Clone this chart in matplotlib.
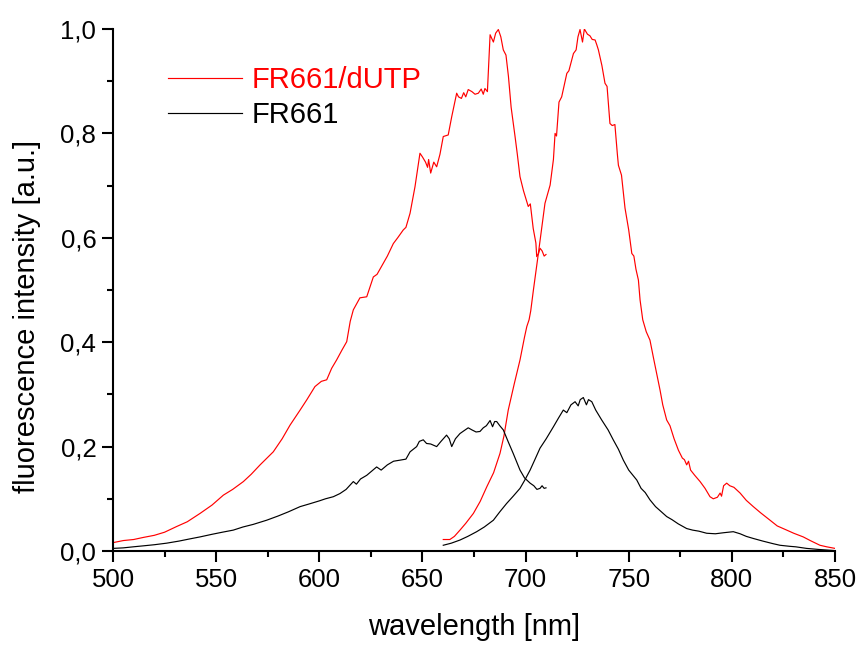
import matplotlib
matplotlib.use("Agg")
import matplotlib.pyplot as plt
from matplotlib.ticker import MultipleLocator, FuncFormatter

plt.rcParams['font.family'] = ['Liberation Sans', 'DejaVu Sans']

# FR661/dUTP excitation
red_ex_x = [500, 505, 510, 514.7, 520, 525, 530.9, 536, 542.2, 548, 553.5, 558, 563.2, 567, 571.3, 577.7,
            582, 585.8, 590.7, 594, 597.9, 601, 603.6, 606, 608.4, 611, 613.3, 615, 616.5, 619.7, 623, 626.2,
            628, 631, 633, 635.9, 638, 640.7, 642, 644, 646.4, 648.8, 650, 651.5, 652.5, 653, 654, 655.5,
            656.9, 658.5, 660.1, 662.5, 664.2, 666.6, 667.5, 668.9, 670, 671, 672.2, 674, 675.5, 677.1,
            678.5, 679.5, 680.3, 681.5, 682.8, 684.4, 685.5, 686.8, 688, 689.2, 690.5, 691.7, 693, 694.9,
            696, 697.3, 699, 701.3, 702.3, 703.7, 705, 705.4, 706.3, 707, 708, 709, 709.9]
red_ex_y = [.016, .02, .022, .026, .03, .036, .047, .056, .072, .088, .107, .118, .133, .147, .165, .19,
            .215, .241, .27, .29, .315, .325, .328, .35, .366, .385, .401, .44, .462, .485, .487, .525,
            .53, .551, .565, .589, .6, .615, .62, .647, .698, .762, .755, .745, .735, .75, .724, .745,
            .736, .76, .794, .797, .832, .877, .87, .867, .878, .87, .884, .88, .875, .877,
            .885, .875, .886, .88, .989, .975, .992, .999, .985, .96, .95, .909, .85, .794,
            .76, .717, .69, .66, .665, .618, .59, .564, .57, .58, .575, .565, .568]

# FR661/dUTP emission
red_em_x = [660.1, 663.3, 665.5, 668.2, 671, 674.7, 678, 681.2, 684.5, 687.6, 689.5, 691.6, 694.5, 697.3,
            699.5, 700.6, 701.7, 702.5, 703.8, 706.2, 709.4, 711.9, 713.5, 714.3, 715, 716.2, 717.5, 720,
            721, 723.2, 724.5, 725.4, 726.4, 727.6, 728.5, 730, 731.2, 732.3, 733.7, 734.5, 735.3, 737,
            738.5, 739.5, 740.9, 742, 743.3, 744.5, 745, 746.5, 748.2, 750, 751.5, 752.5, 753.5, 754.7,
            755.5, 756.8, 758.5, 760.3, 762, 765.2, 766.5, 768.4, 770, 772, 774.1, 776, 777, 778.1, 779,
            780, 782, 784.6, 787, 789.4, 791, 793, 794.3, 795, 796, 797.5, 799, 801, 804, 807, 810.4, 814,
            818.5, 822, 826.6, 830, 834.6, 838, 842.7, 846, 850]
red_em_y = [.022, .022, .028, .04, .053, .072, .095, .123, .15, .187, .22, .27, .32, .366,
            .41, .43, .443, .46, .5, .57, .666, .701, .75, .8, .795, .86, .87, .915,
            .92, .953, .96, .985, .999, .975, 1.0, .99, .987, .98, .979, .97, .96, .93,
            .896, .89, .819, .815, .817, .76, .739, .72, .657, .615, .57, .565, .54, .519,
            .481, .443, .42, .404, .37, .308, .28, .251, .24, .215, .193, .178, .175, .165, .172,
            .155, .145, .133, .12, .104, .1, .103, .111, .105, .125, .13, .125, .122, .111, .097, .085, .073,
            .059, .048, .04, .034, .027, .02, .011, .008, .005]

# FR661 excitation
blk_ex_x = [500, 505, 509.8, 515, 520, 526, 532, 537, 542.2, 548, 553, 558.3, 563, 568, 574.5, 580, 585,
            590.7, 595, 600, 603, 606.8, 610, 613, 616.5, 618, 620, 623, 627.8, 630, 633, 636, 639.1, 642,
            644, 647.2, 648.5, 650.4, 652, 654, 656.9, 659, 661.7, 663, 664.2, 666, 668.2, 670, 672.2, 674,
            676, 677.9, 679.5, 681, 682.8, 684, 685, 686, 687.5, 689.2, 691.5, 694, 697.3, 699.5, 702.2,
            704, 705.5, 707, 708, 709, 709.9]
blk_ex_y = [.005, .006, .008, .01, .012, .015, .019, .023, .027, .032, .036, .04, .046, .051, .059, .067, .075,
            .085, .09, .096, .1, .104, .11, .118, .133, .128, .138, .145, .161, .155, .165, .172, .174, .176,
            .19, .2, .21, .213, .206, .205, .2, .21, .222, .215, .2, .215, .225, .23, .236, .232,
            .228, .229, .236, .24, .25, .238, .248, .248, .24, .232, .21, .187, .155, .14, .13,
            .125, .118, .12, .125, .12, .121]

# FR661 emission
blk_em_x = [660.1, 664, 668.2, 672, 676.3, 680, 684.4, 687.5, 690.8, 694, 697.3, 699.5, 702.2, 704.5, 707,
            710, 713.5, 716, 718.3, 720, 722, 724, 725.5, 726.5, 728, 729.5, 730.5, 732.1, 734, 736.9, 740,
            742.5, 745, 747.4, 750, 753.9, 756, 758, 760.3, 763, 765, 768.4, 771, 774, 778.1, 781, 784,
            787.8, 792, 796, 800.7, 804, 807, 810.4, 815, 820, 823.3, 828, 831, 836.2, 842, 849.2]
blk_em_y = [.011, .015, .021, .028, .037, .046, .059, .075, .091, .105, .12, .135, .155, .175, .197,
            .215, .238, .255, .27, .265, .28, .286, .278, .29, .294, .28, .29, .286, .27, .251, .232,
            .213, .195, .174, .155, .136, .12, .112, .098, .085, .078, .066, .06, .052, .043, .04, .038,
            .034, .033, .035, .037, .033, .028, .024, .019, .014, .011, .009, .008, .005, .003, .001]

labels = ["FR661/dUTP", "FR661"]
colors = ["#ff0000", "#000000"]

fig = plt.figure(figsize=(8.62, 6.45), dpi=100)
ax = fig.add_axes([113 / 862, 94 / 645, 722 / 862, 522 / 645])

lw = 0.85
ax.plot(red_ex_x, red_ex_y, color=colors[0], lw=lw, label=labels[0])
ax.plot(red_em_x, red_em_y, color=colors[0], lw=lw)
ax.plot(blk_ex_x, blk_ex_y, color=colors[1], lw=lw, label=labels[1])
ax.plot(blk_em_x, blk_em_y, color=colors[1], lw=lw)

ax.set_xlim(500, 850)
ax.set_ylim(0, 1.0)
ax.spines['top'].set_visible(False)
ax.spines['right'].set_visible(False)
for s in ('left', 'bottom'):
    ax.spines[s].set_linewidth(1.5)

ax.xaxis.set_major_locator(MultipleLocator(50))
ax.xaxis.set_minor_locator(MultipleLocator(25))
ax.yaxis.set_major_locator(MultipleLocator(0.2))
ax.yaxis.set_minor_locator(MultipleLocator(0.1))
ax.yaxis.set_major_formatter(FuncFormatter(lambda v, p: f"{v:.1f}".replace('.', ',')))
ax.tick_params(which='major', direction='out', length=8, width=1.5, labelsize=18.5, pad=4)
ax.tick_params(which='minor', direction='out', length=4, width=1.5)

ax.set_xlabel("wavelength [nm]", fontsize=21)
ax.xaxis.set_label_coords(0.5, -0.118)
ax.set_ylabel("fluorescence intensity [a.u.]", fontsize=21)
ax.yaxis.set_label_coords(-0.100, 0.45)

leg = ax.legend(loc='upper left', bbox_to_anchor=(0.076, 0.929), frameon=False, fontsize=21,
                handlelength=2.55, handletextpad=0.33, labelspacing=0.25, borderaxespad=0,
                borderpad=0, labelcolor='linecolor')

fig.savefig("out.png", dpi=100)
